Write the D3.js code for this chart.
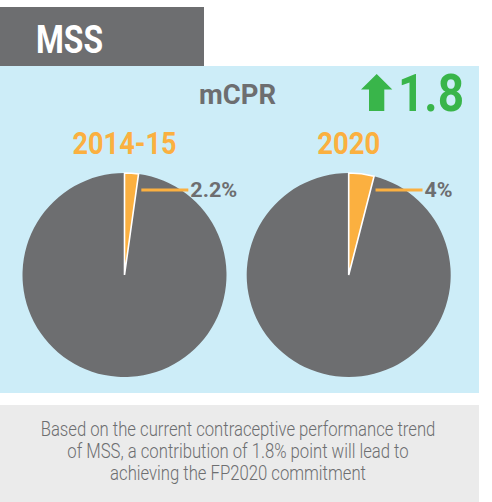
<!DOCTYPE html>
<html>
<head>
<meta charset="utf-8">
<script src="https://cdn.jsdelivr.net/npm/d3@7"></script>
<style>
  body { margin: 0; background: #fff; }
  svg { display: block; }
  text { font-family: Roboto, "Liberation Sans", sans-serif; }
</style>
</head>
<body>
<svg id="chart" width="492" height="502"></svg>
<script>
const title = 'MSS';
const indicator = 'mCPR';
const periods = ['2014-15', '2020'];
const mcprValues = [2.2, 4];
const valueLabels = ['2.2%', '4%'];
const changeLabel = '1.8';
const noteLines = [
  'Based on the current contraceptive performance trend',
  'of MSS, a contribution of 1.8% point will lead to',
  'achieving the FP2020 commitment'
];

const grey = '#6d6e70';
const orange = '#fbb040';
const blue = '#cdedf8';
const green = '#39b54a';

const svg = d3.select('#chart');

// the original uses a condensed face, so squeeze text to its measured width
function squeeze(sel, w) {
  return sel.attr('textLength', w).attr('lengthAdjust', 'spacingAndGlyphs');
}

// header tab
svg.append('rect')
  .attr('x', 0).attr('y', 7).attr('width', 204).attr('height', 59)
  .attr('fill', grey);
svg.append('text')
  .attr('x', 36).attr('y', 53)
  .attr('font-size', 39).attr('font-weight', 'bold')
  .attr('fill', '#fff')
  .text(title)
  .call(squeeze, 67);

// blue panel
svg.append('rect')
  .attr('x', 0).attr('y', 66).attr('width', 479).attr('height', 327)
  .attr('fill', blue);

svg.append('text')
  .attr('x', 199).attr('y', 104)
  .attr('font-size', 27).attr('font-weight', 'bold')
  .attr('fill', grey)
  .text(indicator)
  .call(squeeze, 77);

// up arrow + change
svg.append('path')
  .attr('d', 'M361,89.5 L376.7,74 L392.3,89.5 L384.3,89.5 L384.3,111 L369,111 L369,89.5 Z')
  .attr('fill', green);
svg.append('text')
  .attr('x', 398).attr('y', 111)
  .attr('font-size', 52).attr('font-weight', 'bold')
  .attr('fill', green)
  .text(changeLabel)
  .call(squeeze, 66);

// pies
const x = d3.scalePoint().domain(periods).range([124.5, 348.7]);
const cy = 275;
const radius = 102;
const titleWidths = [104, 63];
const labelWidths = [47, 28];

const pie = d3.pie().sort(null).value(d => d);
const arc = d3.arc().innerRadius(0).outerRadius(radius);

periods.forEach((p, i) => {
  const cx = x(p);
  const v = mcprValues[i];
  const slices = pie([v, 100 - v]);
  const g = svg.append('g').attr('transform', `translate(${cx},${cy})`);

  g.append('text')
    .attr('x', 0).attr('y', -121)
    .attr('text-anchor', 'middle')
    .attr('font-size', 31).attr('font-weight', 'bold')
    .attr('fill', orange)
    .text(p)
    .call(squeeze, titleWidths[i]);

  g.append('path')
    .attr('d', arc(slices[1]))
    .attr('fill', grey);
  g.append('path')
    .attr('d', arc(slices[0]))
    .attr('fill', orange)
    .attr('stroke', '#fff')
    .attr('stroke-width', 1.6)
    .attr('stroke-linejoin', 'miter');

  // leader line from the slice's trailing edge
  const ly = -85;
  const lx = -ly * Math.tan(slices[0].endAngle) + 5;
  g.append('line')
    .attr('x1', lx).attr('x2', lx + 47)
    .attr('y1', ly).attr('y2', ly)
    .attr('stroke', orange).attr('stroke-width', 3);
  g.append('text')
    .attr('x', lx + 49).attr('y', ly + 7)
    .attr('font-size', 21).attr('font-weight', 'bold')
    .attr('fill', grey)
    .text(valueLabels[i])
    .call(squeeze, labelWidths[i]);
});

// footer note, drawn narrow with a horizontal scale
svg.append('rect')
  .attr('x', 0).attr('y', 405).attr('width', 479).attr('height', 97)
  .attr('fill', '#ebebeb');
svg.append('g')
  .attr('transform', 'translate(238,0) scale(0.835,1)')
  .selectAll('text')
  .data(noteLines)
  .enter().append('text')
    .attr('x', 0)
    .attr('y', (d, i) => 436 + i * 22)
    .attr('text-anchor', 'middle')
    .attr('font-size', 20).attr('font-weight', 300)
    .attr('fill', grey)
    .text(d => d);
</script>
</body>
</html>
